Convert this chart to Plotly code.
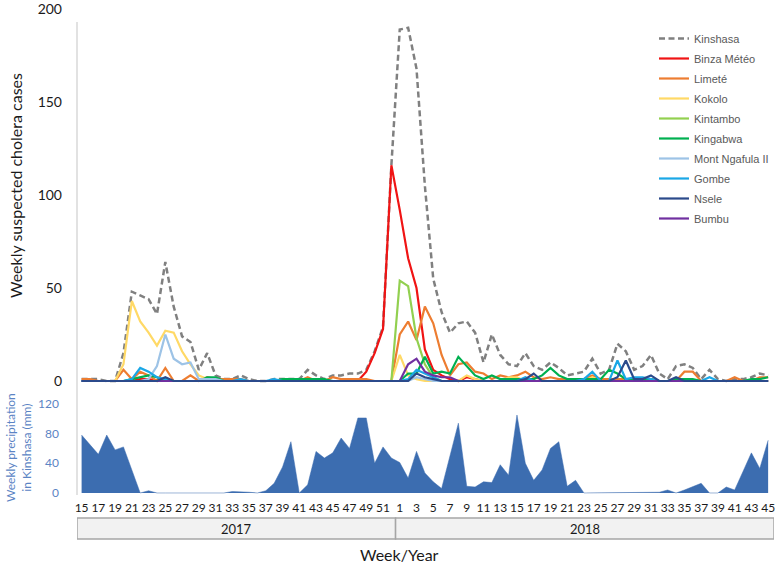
import plotly.graph_objects as go

# ---------------- data ----------------
weeks_2017 = list(range(15, 53))
weeks_2018 = list(range(1, 46))
week_labels = [str(w) for w in weeks_2017 + weeks_2018]
years = ["2017", "2018"]

kinshasa = [1,1,1,0,0,15,48,46,44,36,
            64,40,24,21,6,15,3,1,1,3,
            1,0,0,1,1,1,1,6,3,1,
            3,3,4,4,6,16,29,116,189,190,
            168,105,55,37,26,31,32,26,10,25,
            14,9,8,15,8,6,10,7,3,4,
            5,12,4,6,20,16,6,8,14,4,
            1,8,9,7,1,6,1,0,1,1,
            2,4,3]
binza = [0,0,0,0,0,0,0,1,1,0,
         0,0,0,0,0,0,0,0,0,0,
         0,0,0,0,0,0,0,0,0,0,
         0,0,0,0,5,15,28,116,92,66,
         50,17,6,3,1,0,2,1,0,0,
         0,0,0,0,0,0,0,0,0,0,
         0,0,0,0,0,0,0,0,0,0,
         0,0,0,0,0,0,0,0,0,0,
         0,0,0]
limete = [1,1,0,0,0,6,1,5,3,0,
          7,0,0,3,0,2,1,1,1,1,
          0,0,0,0,0,0,0,2,0,0,
          2,1,1,1,1,0,0,0,25,32,
          22,40,31,14,3,9,10,5,4,1,
          3,2,3,5,2,1,2,1,1,1,
          1,3,1,1,1,1,1,1,1,0,
          0,0,5,5,0,0,0,0,2,0,
          0,2,2]
kokolo = [0,0,0,0,0,9,43,32,26,19,
          27,26,16,9,3,1,0,0,0,0,
          0,0,0,0,0,0,0,0,0,0,
          0,0,0,0,0,0,0,0,14,3,
          1,0,0,0,0,0,3,1,0,0,
          0,2,2,0,0,0,0,0,0,0,
          0,2,0,0,0,0,0,0,0,0,
          0,0,0,0,0,0,0,0,0,0,
          0,0,0]
kintambo = [0,0,0,0,0,0,0,0,0,0,
            0,0,0,0,0,0,0,0,0,0,
            0,0,0,0,0,0,0,0,0,0,
            0,0,0,0,0,0,0,0,54,51,
            23,9,2,0,0,0,0,0,0,0,
            0,0,0,0,0,0,0,0,0,0,
            0,0,0,0,0,0,0,0,0,0,
            0,0,0,0,0,0,0,0,0,0,
            0,0,0]
kingabwa = [0,0,0,0,0,0,1,2,3,2,
            0,0,0,0,0,2,2,0,0,0,
            0,0,0,0,1,1,1,1,1,1,
            0,0,0,0,0,0,0,0,0,4,
            4,13,4,5,4,13,8,3,1,3,
            1,1,1,1,1,3,7,3,1,1,
            1,1,1,6,4,1,1,1,1,0,
            0,1,1,1,0,0,0,0,0,0,
            1,1,2]
mont_ngafula = [0,0,0,0,0,0,0,0,1,8,
                25,12,9,10,1,1,1,0,0,0,
                0,0,0,0,0,0,0,0,0,0,
                0,0,0,0,0,0,0,0,0,0,
                2,1,0,0,0,0,0,0,0,0,
                0,0,0,0,0,0,0,0,0,0,
                0,0,0,0,0,0,0,0,0,0,
                0,0,0,0,0,0,0,0,0,0,
                0,0,0]
gombe = [0,0,0,0,0,0,1,7,5,2,
         1,0,0,0,0,0,0,0,0,1,
         0,0,0,1,0,0,0,0,0,0,
         0,0,0,0,0,0,0,0,0,1,
         6,4,2,0,0,0,0,0,0,0,
         0,0,0,2,0,0,0,0,0,0,
         1,5,0,0,11,1,2,2,1,0,
         0,0,0,0,0,2,0,0,0,0,
         0,0,0]
nsele = [0,0,0,0,0,0,0,0,0,0,
         2,0,0,0,0,0,0,0,0,0,
         0,0,0,0,0,0,0,0,0,0,
         0,0,0,0,0,0,0,0,0,0,
         4,2,1,0,0,0,0,0,0,0,
         0,0,0,1,4,0,0,0,0,0,
         0,0,0,0,2,11,1,1,3,0,
         0,2,0,0,0,0,0,0,0,0,
         0,0,0]
bumbu = [0,0,0,0,0,0,0,0,0,0,
         0,0,0,0,0,0,0,0,0,0,
         0,0,0,0,0,0,0,0,0,0,
         0,0,0,0,0,0,0,0,0,9,
         12,5,3,2,2,0,0,0,0,0,
         0,0,0,0,0,0,0,0,0,0,
         0,0,0,0,0,0,0,0,0,0,
         0,0,0,0,0,0,0,0,0,0,
         0,0,0]
precip = [78,65,52,78,58,62,31,0,3,0,
          0,0,0,0,0,0,1,0,2,2,
          1,0,3,13,35,69,0,11,56,47,
          54,74,60,101,101,40,62,47,41,20,
          56,27,15,6,50,94,9,8,15,14,
          38,24,105,40,17,31,60,69,9,17,
          0,0,0,0,0,0,0,1,0,1,
          4,0,4,9,13,0,0,8,4,29,
          54,33,71]

idx = list(range(len(week_labels)))
n2017 = len(weeks_2017)

# (name, values, color, dash, legend rank)
series = [
    ("Kinshasa", kinshasa, "#808080", "6px,3.5px", 1),
    ("Binza Météo", binza, "#f01414", "solid", 2),
    ("Limeté", limete, "#ed7d31", "solid", 3),
    ("Kokolo", kokolo, "#ffd966", "solid", 4),
    ("Kintambo", kintambo, "#92d050", "solid", 5),
    ("Kingabwa", kingabwa, "#00b050", "solid", 6),
    ("Mont Ngafula II", mont_ngafula, "#9dc3e6", "solid", 7),
    ("Gombe", gombe, "#1aa7e6", "solid", 8),
    ("Bumbu", bumbu, "#7030a0", "solid", 10),
    ("Nsele", nsele, "#2b4a8b", "solid", 9),
]

H = 563.0
W = 778.0
ML, MR = 77, 4
PW = W - ML - MR

def py(p):
    return 1 - p / H

def px(p):
    return (p - ML) / PW

fig = go.Figure()
for name, vals, col, dash, rank in series:
    fig.add_trace(go.Scatter(
        x=idx, y=vals, name=name, mode="lines",
        line=dict(color=col, width=2.5 if rank == 1 else 2.2, dash=dash),
        legendgroup=name, legendrank=rank,
        xaxis="x", yaxis="y", hoverinfo="skip"))

fig.add_trace(go.Scatter(
    x=idx, y=precip, mode="lines", fill="tozeroy",
    line=dict(color="#3c6db0", width=0.5), fillcolor="#3c6db0",
    showlegend=False, xaxis="x2", yaxis="y2", hoverinfo="skip"))

xr = [-0.55, 82.7]
tick_idx = idx[::2]
tick_txt = [week_labels[i] for i in tick_idx]

fig.update_layout(
    template="none",
    width=778, height=563,
    margin=dict(l=ML, r=MR, t=0, b=0, autoexpand=False),
    plot_bgcolor="white", paper_bgcolor="white",
    font=dict(family="Lato, Open Sans, sans-serif", color="#1a1a1a"),
    xaxis=dict(domain=[0, 1], range=xr, anchor="y", showticklabels=False,
               showgrid=False, zeroline=False, showline=False, ticks="",
               automargin=False),
    yaxis=dict(domain=[py(384.7), py(8)], range=[-2, 200.6],
               tickvals=[0, 50, 100, 150, 200], showgrid=False, zeroline=False,
               showline=False, ticks="", ticklabelstandoff=14, automargin=False,
               tickfont=dict(size=14, color="#1a1a1a")),
    xaxis2=dict(domain=[0, 1], range=xr, anchor="y2", tickvals=tick_idx,
                ticktext=tick_txt, showgrid=False, zeroline=False,
                showline=False, ticks="", tickangle=0, automargin=False,
                ticklabelstandoff=4,
                tickfont=dict(size=12, color="#1a1a1a")),
    yaxis2=dict(domain=[py(495.2), py(389)], range=[-3, 140],
                tickvals=[0, 40, 80, 120], showgrid=False, zeroline=False,
                showline=False, ticks="", ticklabelstandoff=17, automargin=False,
                tickfont=dict(size=12, color="#5b84c4")),
    legend=dict(x=px(654), y=py(24), xanchor="left", yanchor="top",
                bgcolor="rgba(0,0,0,0)", tracegroupgap=1, borderwidth=0,
                font=dict(family="Liberation Sans, Arial, sans-serif",
                          size=11, color="#595959")),
    showlegend=True,
)

shapes = [
    dict(type="line", xref="paper", yref="paper", x0=0, x1=0,
         y0=py(495), y1=py(22), line=dict(color="#d9d9d9", width=1.5)),
    dict(type="rect", xref="x2", yref="paper", x0=xr[0], x1=n2017 - 0.5,
         y0=py(539), y1=py(518), fillcolor="#f2f2f2",
         line=dict(color="#a6a6a6", width=1.5), layer="below"),
    dict(type="rect", xref="x2", yref="paper", x0=n2017 - 0.5, x1=xr[1],
         y0=py(539), y1=py(518), fillcolor="#f2f2f2",
         line=dict(color="#a6a6a6", width=1.5), layer="below"),
]
fig.update_layout(shapes=shapes)

annotations = [
    dict(text=years[0], xref="x2", yref="paper", x=(xr[0] + n2017 - 0.5) / 2,
         y=py(528.5), xanchor="center", yanchor="middle", showarrow=False,
         font=dict(size=13, color="#1a1a1a")),
    dict(text=years[1], xref="x2", yref="paper", x=(n2017 - 0.5 + xr[1]) / 2,
         y=py(528.5), xanchor="center", yanchor="middle", showarrow=False,
         font=dict(size=13, color="#1a1a1a")),
    dict(text="Week/Year", xref="paper", yref="paper", x=px(399), y=py(554),
         xanchor="center", yanchor="middle", showarrow=False,
         font=dict(size=16, color="#1a1a1a")),
    dict(text="Weekly suspected cholera cases", xref="paper", yref="paper",
         x=px(15), y=py(186), xanchor="center", yanchor="middle",
         textangle=-90, showarrow=False,
         font=dict(size=16, color="#1a1a1a")),
    dict(text="Weekly precipitation<br>in Kinshasa (mm)", xref="paper",
         yref="paper", x=px(18), y=py(447), xanchor="center", yanchor="middle",
         textangle=-90, showarrow=False,
         font=dict(size=12, color="#5b84c4")),
]
fig.update_layout(annotations=annotations)

fig.write_html(
    "out.html",
    config={"displayModeBar": False},
    post_script="document.body.style.margin='0px';document.body.style.padding='0px';",
)
